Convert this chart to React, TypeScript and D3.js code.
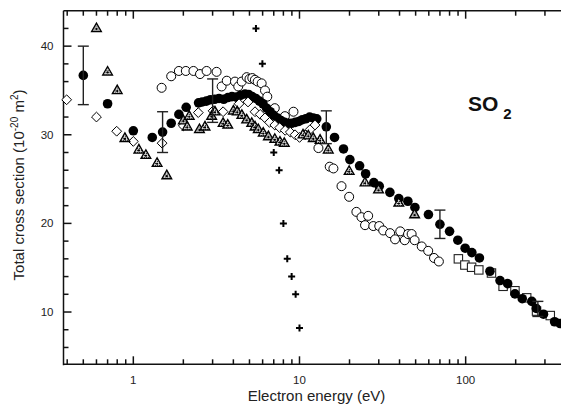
import React from 'react';
import * as d3 from 'd3';

// Filled circles
const filledE = [0.5, 0.7, 1.0, 1.3, 1.5, 1.69, 1.88, 2.08, 2.47, 2.6, 2.75, 2.91, 3.09, 3.28, 3.5, 3.71, 3.92, 4.16, 4.41, 4.7, 4.94, 5.19, 5.46, 5.74, 6.03, 6.34, 6.66, 7.0, 7.36, 7.74, 8.13, 8.54, 8.97, 9.43, 9.91, 10.4, 10.9, 11.5, 12.1, 12.7, 14.5, 16.25, 18.4, 20.1, 23.0, 25.0, 28.0, 30.2, 35, 39.6, 44.9, 49.5, 59.7, 70, 80, 89.7, 99.3, 109, 121, 140, 161, 179, 198, 219, 250, 266, 294, 343, 370];
const filledV = [36.7, 33.5, 30.45, 29.7, 30.3, 31.3, 32.3, 33.1, 33.6, 33.7, 33.8, 33.95, 34.0, 34.1, 34.0, 34.2, 34.3, 34.25, 34.45, 34.6, 34.55, 34.3, 34.1, 33.8, 33.5, 33.0, 32.6, 32.2, 31.9, 31.6, 31.4, 31.3, 31.3, 31.4, 31.5, 31.7, 31.8, 32.0, 31.9, 31.8, 30.9, 29.7, 28.4, 27.2, 26.5, 25.6, 24.6, 24.2, 23.5, 22.8, 22.5, 21.8, 21.0, 19.9, 19.1, 18.1, 17.2, 16.7, 16.1, 14.6, 13.55, 13.2, 12.05, 11.5, 11.2, 10.4, 9.75, 8.9, 8.7];

// Open circles
const openE = [1.48, 1.69, 1.88, 2.07, 2.3, 2.52, 2.76, 3.17, 3.4, 3.65, 4.09, 4.28, 4.49, 4.81, 5.0, 5.2, 5.39, 5.6, 5.92, 6.2, 6.4, 7.1, 8.17, 9.2, 13.0, 15.2, 16.0, 17.9, 19.9, 22.0, 23.6, 24.8, 25.9, 27.8, 30.2, 31.9, 35.1, 37.6, 40.4, 43.0, 45.0, 47.3, 49.3, 54.4, 59.5, 64.5, 69.0];
const openV = [35.3, 36.6, 37.2, 37.2, 37.2, 36.85, 37.2, 37.1, 35.45, 36.1, 36.0, 35.45, 36.0, 36.5, 36.3, 36.4, 36.2, 36.0, 35.8, 35.0, 34.3, 33.0, 32.1, 32.6, 28.5, 26.4, 26.2, 24.2, 23.0, 21.3, 20.7, 19.8, 20.85, 19.7, 19.7, 19.2, 18.9, 18.2, 19.1, 18.1, 18.8, 18.8, 18.1, 17.4, 16.9, 16.1, 15.7];

// Hatched triangles
const triE = [0.6, 0.7, 0.8, 0.89, 1.08, 1.19, 1.39, 1.59, 2.0, 2.11, 2.17, 2.5, 2.7, 2.96, 3.1, 3.47, 3.7, 4.0, 4.22, 4.5, 4.81, 5.16, 5.4, 5.65, 6.05, 6.5, 7.1, 7.63, 8.1, 10.5, 11.3, 12.1, 13.3, 14.9, 19.9, 24.8, 29.9, 39.6, 49.3];
const triV = [42.0, 37.1, 35.0, 29.6, 28.3, 27.7, 26.8, 25.4, 31.6, 30.9, 32.1, 30.6, 30.9, 32.1, 32.6, 31.3, 31.1, 32.7, 32.6, 32.2, 31.7, 31.3, 30.9, 30.6, 30.2, 29.8, 29.5, 29.2, 29.05, 30.0, 29.9, 29.6, 29.4, 28.3, 25.9, 24.6, 23.8, 22.3, 21.0];

// Open diamonds
const diaE = [0.397, 0.6, 0.794, 1.0, 1.49, 2.0, 2.46, 3.02, 3.47, 4.33, 4.9, 5.4, 5.8, 6.2, 6.6, 7.1, 7.6, 8.2, 8.8, 9.4, 10.0, 10.8, 11.6, 12.4];
const diaV = [33.95, 32.0, 30.4, 29.25, 29.05, 31.0, 32.5, 32.7, 32.6, 33.5, 33.7, 32.6, 32.3, 31.9, 31.4, 31.1, 30.8, 30.5, 30.3, 30.0, 29.7, 30.0, 30.6, 31.1];

// Open squares
const sqE = [90.4, 98.9, 108.6, 120, 143, 168, 198, 233, 267, 323];
const sqV = [16.0, 15.3, 15.05, 14.75, 14.4, 12.9, 12.4, 11.6, 10.1, 9.6];

// Plus signs
const plusE = [5.47, 5.98, 7.0, 7.54, 8.0, 8.44, 8.97, 9.48, 10.0];
const plusV = [42.0, 38.0, 28.0, 26.0, 20.0, 16.0, 14.0, 12.0, 8.2];

// Error bars
const errE = [0.5, 1.5, 3.0, 14.5, 70, 272];
const errLo = [33.4, 28.0, 31.4, 29.0, 18.3, 9.5];
const errHi = [40.0, 32.6, 36.3, 32.7, 21.5, 11.2];

const yTickValues = [6, 8, 10, 12, 14, 16, 18, 20, 22, 24, 26, 28, 30, 32, 34, 36, 38, 40, 42];
const yLabels = [10, 20, 30, 40];
const xLabels = [1, 10, 100];

const FONT = "Arial, 'Liberation Sans', Helvetica, sans-serif";

export default function App() {
  const W = 561, H = 405;
  const left = 63.5, right = 565.7, top = 10.7, bottom = 364.3;
  const x = d3.scaleLog().domain([0.38, 400]).range([left, right]);
  const y = d3.scaleLinear().domain([4.1, 44]).range([bottom, top]);
  const xt = x.ticks();
  const isMajor = (v: number) => Math.abs(Math.log10(v) - Math.round(Math.log10(v))) < 1e-9;
  const triPath = 'M0,-5.4L4.9,3.2L-4.9,3.2Z';
  const diaPath = 'M0,-4.9L4.9,0L0,4.9L-4.9,0Z';
  const plusPath = 'M-3.5,0H3.5M0,-3.5V3.5';

  return (
    <svg width={W} height={H} style={{ position: 'absolute', left: 0, top: 0, background: '#fff' }} fontFamily={FONT}>
      <defs>
        <pattern id="hatch" width="2" height="2" patternUnits="userSpaceOnUse">
          <rect width="2" height="2" fill="#ddd" />
          <rect width="1" height="1" fill="#000" />
        </pattern>
      </defs>
      <rect width={W} height={H} fill="#fff" />

      {/* axes */}
      <g stroke="#111" strokeWidth={1.5} fill="none">
        <line x1={left} x2={left} y1={top} y2={bottom + 1} />
        <line x1={left} x2={W} y1={bottom} y2={bottom} />
        <line x1={left} x2={W} y1={top} y2={top} />
        {xt.map((v, i) => {
          const L = isMajor(v) ? 8 : 5;
          return (
            <g key={i}>
              <line x1={x(v)} x2={x(v)} y1={bottom} y2={bottom - L} />
              <line x1={x(v)} x2={x(v)} y1={top} y2={top + L} />
            </g>
          );
        })}
        {yTickValues.map((v, i) => {
          const L = v % 10 === 0 ? 8 : 5;
          return <line key={i} x1={left} x2={left + L} y1={y(v)} y2={y(v)} />;
        })}
      </g>

      {/* tick labels */}
      <g fontSize={11.5} fill="#222">
        {xLabels.map((v) => (
          <text key={v} x={x(v)} y={383.5} textAnchor="middle">{v}</text>
        ))}
        {yLabels.map((v) => (
          <text key={v} x={53.5} y={y(v) + 4} textAnchor="end">{v}</text>
        ))}
      </g>

      {/* axis titles */}
      <text x={316.5} y={400.5} textAnchor="middle" fontSize={15} fill="#222">Electron energy (eV)</text>
      <text transform="translate(24,185) rotate(-90)" textAnchor="middle" fontSize={15} fill="#222">
        Total cross section (10<tspan dy={-6} fontSize={10}>-20</tspan><tspan dy={6}> m</tspan><tspan dy={-6} fontSize={10}>2</tspan><tspan dy={6}>)</tspan>
      </text>

      {/* SO2 label */}
      <text x={468} y={111} fontSize={21} fontWeight="bold" fill="#111">SO<tspan dx={5} dy={8} fontSize={15}>2</tspan></text>

      {/* open circles */}
      <g>
        {openE.map((e, i) => (
          <circle key={i} cx={x(e)} cy={y(openV[i])} r={4.5} fill="#fff" stroke="#000" strokeWidth={1} />
        ))}
      </g>
      {/* squares */}
      <g>
        {sqE.map((e, i) => (
          <rect key={i} x={x(e) - 4.2} y={y(sqV[i]) - 4.2} width={8.4} height={8.4} fill="#fff" stroke="#222" strokeWidth={1.1} />
        ))}
      </g>
      {/* filled circles */}
      <g>
        {filledE.map((e, i) => (
          <circle key={i} cx={x(e)} cy={y(filledV[i])} r={4.8} fill="#000" />
        ))}
      </g>
      {/* diamonds */}
      <g>
        {diaE.map((e, i) => (
          <path key={i} d={diaPath} transform={`translate(${x(e)},${y(diaV[i])})`} fill="#fff" stroke="#000" strokeWidth={1} />
        ))}
      </g>
      {/* triangles */}
      <g>
        {triE.map((e, i) => (
          <g key={i} transform={`translate(${x(e)},${y(triV[i])})`}>
            <path d={triPath} fill="url(#hatch)" stroke="#000" strokeWidth={1.3} />
            <circle cx={0} cy={0.6} r={1.1} fill="#000" />
          </g>
        ))}
      </g>
      {/* error bars */}
      <g stroke="#222" strokeWidth={1.4}>
        {errE.map((e, i) => {
          const cx = x(e);
          return (
            <g key={i}>
              <line x1={cx} x2={cx} y1={y(errLo[i])} y2={y(errHi[i])} />
              <line x1={cx - 5.5} x2={cx + 5.5} y1={y(errLo[i])} y2={y(errLo[i])} />
              <line x1={cx - 5.5} x2={cx + 5.5} y1={y(errHi[i])} y2={y(errHi[i])} />
            </g>
          );
        })}
      </g>
      {/* plus */}
      <g>
        {plusE.map((e, i) => (
          <path key={i} d={plusPath} transform={`translate(${x(e)},${y(plusV[i])})`} stroke="#000" strokeWidth={2} fill="none" />
        ))}
      </g>
    </svg>
  );
}
